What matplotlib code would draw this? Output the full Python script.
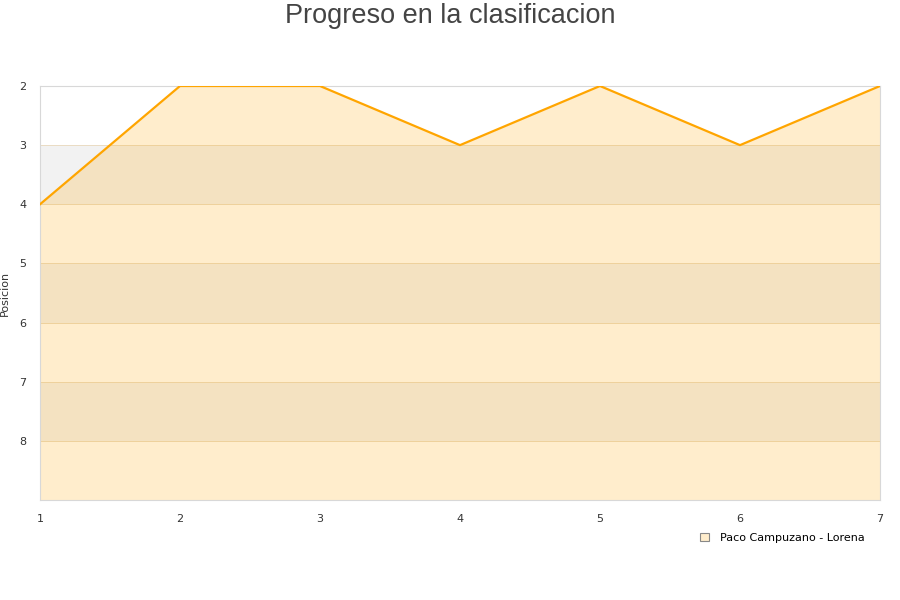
import matplotlib.pyplot as plt
from matplotlib.patches import Patch

# data
jornadas = [1, 2, 3, 4, 5, 6, 7]
posicion = [4, 2, 2, 3, 2, 3, 2]
serie = "Paco Campuzano - Lorena"

fig = plt.figure(figsize=(9, 6), dpi=100)
ax = fig.add_axes([40 / 900, 100 / 600, 840 / 900, 414 / 600])

# alternating background bands
for lo in (3, 5, 7):
    ax.axhspan(lo, lo + 1, color="#f2f2f2", zorder=0, lw=0)
for y in range(3, 9):
    ax.axhline(y, color="#eadcc3", lw=0.7, zorder=1)

ax.fill_between(jornadas, posicion, 9, color="orange", alpha=0.2, lw=0, zorder=2)
ax.plot(jornadas, posicion, color="orange", lw=1.6, zorder=3)

ax.set_xlim(1, 7)
ax.set_ylim(9, 2)
ax.set_yticks(range(2, 9))
ax.set_xticks(jornadas)
ax.tick_params(length=0, labelsize=8, colors="#333333", pad=10)
for s in ax.spines.values():
    s.set_color("#d8d8d8")

ax.set_ylabel("Posicion", fontsize=8, color="#333333")
ax.yaxis.set_label_coords(-0.036, 0.5)
fig.suptitle("Progreso en la clasificacion", fontsize=19.5, color="#444444",
             family="Liberation Sans", y=0.995)

handle = Patch(facecolor="#ffedcc", edgecolor="#888888", lw=0.8)
fig.legend([handle], [serie], loc="center", bbox_to_anchor=(782 / 900, 1 - 538 / 600),
           frameon=False, fontsize=8, handlelength=0.8, handleheight=0.8, handletextpad=1)

fig.savefig("out.png", dpi=100)
